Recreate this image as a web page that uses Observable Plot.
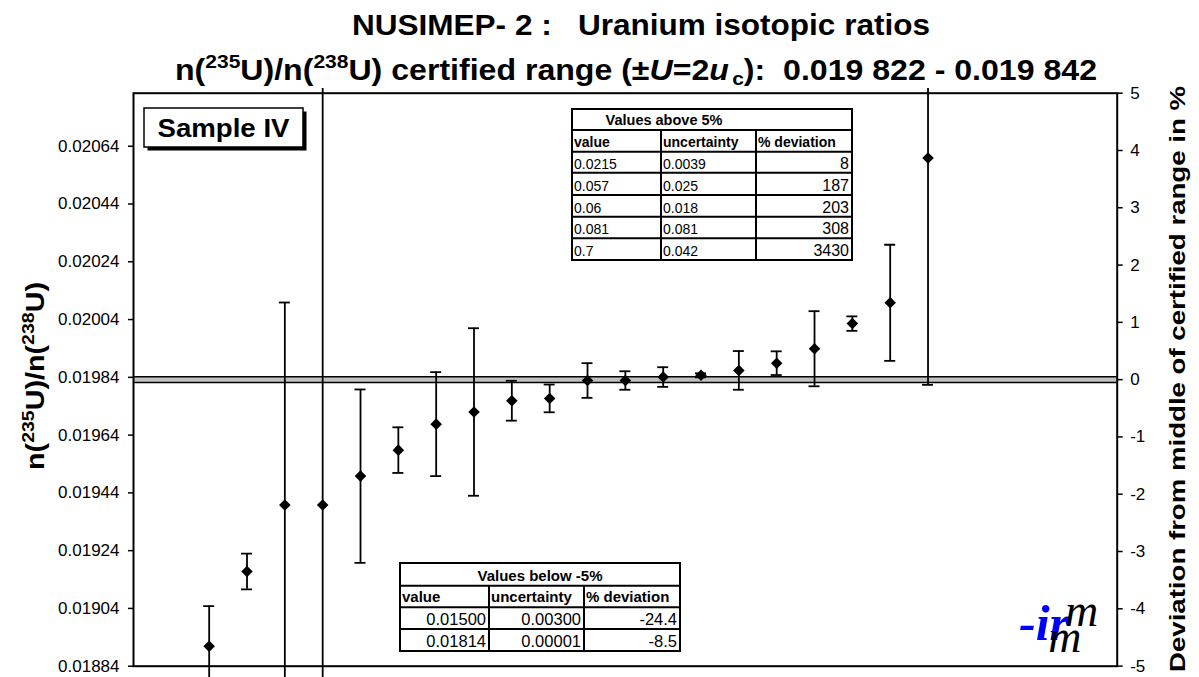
<!DOCTYPE html>
<html><head><meta charset="utf-8">
<script src="https://cdn.jsdelivr.net/npm/d3@7"></script>
<script src="https://cdn.jsdelivr.net/npm/@observablehq/plot@0.6"></script>
<style>
body{margin:0;background:#fff;overflow:hidden;}
#wrap{position:relative;width:1199px;height:677px;overflow:hidden;font-family:"Liberation Sans",Arial,sans-serif;}
#over{position:absolute;left:0;top:0;pointer-events:none;}
</style></head><body><div id="wrap"></div>
<script>
// ---- data ----
const labPosition = [2,3,4,5,6,7,8,9,10,11,12,13,14,15,16,17,18,19,20,21];
const measuredValue = [0.018909,0.019168,0.019398,0.019398,0.019498,0.019588,0.019678,0.019720,0.019759,0.019767,
                       0.019829,0.019829,0.019841,0.019847,0.019864,0.019889,0.019939,0.020026,0.020098,0.020599];
const expandedUncertainty = [0.000139,0.000062,0.000701,0.0016,0.000300,0.000079,0.000180,0.000290,0.000069,0.000048,
                             0.000060,0.000032,0.000034,0.000007,0.000067,0.000041,0.000130,0.000025,0.000201,0.000785];
const certLow = 0.019822, certHigh = 0.019842, certMid = 0.019832;
const leftTicks = [0.01884,0.01904,0.01924,0.01944,0.01964,0.01984,0.02004,0.02024,0.02044,0.02064];
const rightTicks = [-5,-4,-3,-2,-1,0,1,2,3,4,5];
const aboveTitle = "Values above 5%";
const aboveHeader = ["value","uncertainty","% deviation"];
const aboveRows = [["0.0215","0.0039","8"],["0.057","0.025","187"],["0.06","0.018","203"],["0.081","0.081","308"],["0.7","0.042","3430"]];
const belowTitle = "Values below -5%";
const belowHeader = ["value","uncertainty","% deviation"];
const belowRows = [["0.01500","0.00300","-24.4"],["0.01814","0.00001","-8.5"]];

const xDomain = [0, 26];
const yDomain = [0.01884, certMid * 1.05];
const barTop = certMid * 1.0508; // error bars stop just above the plot area
const rows = labPosition.map((x, i) => ({x, v: measuredValue[i], lo: measuredValue[i] - expandedUncertainty[i], hi: measuredValue[i] + expandedUncertainty[i]}));
const capHalf = 0.145;

const plot = Plot.plot({
  width: 1199, height: 677,
  marginLeft: 133, marginRight: 82.3, marginTop: 92.7, marginBottom: 11.3,
  style: {fontFamily: '"Liberation Sans", Arial, sans-serif', fontSize: "17px", background: "white", color: "black"},
  x: {domain: xDomain, axis: null},
  y: {domain: yDomain, axis: null, label: null},
  marks: [
    Plot.rect([{a: certLow, b: certHigh}], {x1: () => xDomain[0], x2: () => xDomain[1], y1: "a", y2: "b", fill: "#c0c0c0"}),
    Plot.ruleY([certLow, certHigh], {stroke: "black", strokeWidth: 1.6}),
    Plot.ruleX(rows, {x: "x", y1: "lo", y2: d => Math.min(d.hi, barTop), stroke: "black", strokeWidth: 1.8}),
    Plot.ruleY(rows, {y: "hi", x1: d => d.x - capHalf, x2: d => d.x + capHalf, stroke: "black", strokeWidth: 1.8, clip: true}),
    Plot.ruleY(rows, {y: "lo", x1: d => d.x - capHalf, x2: d => d.x + capHalf, stroke: "black", strokeWidth: 1.8, clip: true}),
    Plot.dot(rows, {x: "x", y: "v", symbol: "diamond2", r: 5.2, fill: "black", stroke: "none"}),
    Plot.frame({stroke: "black", strokeWidth: 2}),
    Plot.axisY({anchor: "left", ticks: leftTicks, tickSize: 5, tickPadding: 9, tickFormat: d3.format(".5f"), label: null, strokeWidth: 1.5}),
    Plot.axisY({anchor: "right", ticks: rightTicks.map(k => certMid * (1 + k / 100)), tickSize: 5, tickPadding: 8,
      tickFormat: v => String(Math.round((v / certMid - 1) * 100)), label: null, strokeWidth: 1.5})
  ]
});
const wrap = document.getElementById("wrap");
wrap.appendChild(plot);

// ---- overlay: titles, axis titles, box, tables, logo ----
const svg = d3.select(wrap).append("svg").attr("id", "over").attr("width", 1199).attr("height", 677)
  .style("font-family", '"Liberation Sans", Arial, sans-serif');

svg.append("text").attr("x", 641).attr("y", 35).attr("text-anchor", "middle")
  .attr("font-size", 29).attr("font-weight", "bold").attr("textLength", 578).attr("lengthAdjust", "spacingAndGlyphs")
  .style("white-space", "pre").text("NUSIMEP- 2 :   Uranium isotopic ratios");

svg.append("g").html(
  `<text x="636" y="80" text-anchor="middle" font-size="29" font-weight="bold" textLength="922" lengthAdjust="spacingAndGlyphs" style="white-space:pre">n(<tspan font-size="19" dy="-12">235</tspan><tspan dy="12">U)/n(</tspan><tspan font-size="19" dy="-12">238</tspan><tspan dy="12">U) certified range (±</tspan><tspan font-style="italic">U</tspan>=2<tspan font-style="italic">u</tspan><tspan font-size="19" dy="5" dx="3">c</tspan><tspan dy="-5">):  0.019 822 - 0.019 842</tspan></text>` +
  `<text transform="translate(44,376) rotate(-90)" text-anchor="middle" font-size="25" font-weight="bold" textLength="188" lengthAdjust="spacingAndGlyphs">n(<tspan font-size="17" dy="-10">235</tspan><tspan dy="10">U)/n(</tspan><tspan font-size="17" dy="-10">238</tspan><tspan dy="10">U)</tspan></text>` +
  `<text transform="translate(1185,379) rotate(-90)" text-anchor="middle" font-size="22.5" font-weight="bold" textLength="586" lengthAdjust="spacingAndGlyphs">Deviation from middle of certified range in %</text>`
);

// Sample box
svg.append("rect").attr("x", 147.5).attr("y", 111.5).attr("width", 159).attr("height", 39).attr("fill", "black");
svg.append("rect").attr("x", 144).attr("y", 108).attr("width", 159).attr("height", 39).attr("fill", "white").attr("stroke", "black").attr("stroke-width", 1.5);
svg.append("text").attr("x", 223.5).attr("y", 137).attr("text-anchor", "middle").attr("font-size", 26).attr("font-weight", "bold")
  .attr("textLength", 132).attr("lengthAdjust", "spacingAndGlyphs").text("Sample IV");

function drawTable(spec) {
  const g = svg.append("g");
  const {cols, rowsY, title, titleX, header, body, alignLeftCols, fs} = spec;
  const x0 = cols[0], x1 = cols[cols.length - 1], y0 = rowsY[0], y1 = rowsY[rowsY.length - 1];
  g.append("rect").attr("x", x0).attr("y", y0).attr("width", x1 - x0).attr("height", y1 - y0).attr("fill", "white").attr("stroke", "black").attr("stroke-width", 2);
  rowsY.slice(1, -1).forEach(y => g.append("line").attr("x1", x0).attr("x2", x1).attr("y1", y).attr("y2", y).attr("stroke", "black").attr("stroke-width", 2));
  cols.slice(1, -1).forEach(x => g.append("line").attr("x1", x).attr("x2", x).attr("y1", rowsY[1]).attr("y2", y1).attr("stroke", "black").attr("stroke-width", 2));
  g.append("text").attr("x", titleX).attr("y", rowsY[1] - 5).attr("text-anchor", "middle").attr("font-size", fs.title).attr("font-weight", "bold").text(title);
  header.forEach((t, j) => g.append("text").attr("x", cols[j] + 2).attr("y", rowsY[2] - 5).attr("font-size", fs.header).attr("font-weight", "bold").text(t));
  body.forEach((r, i) => r.forEach((t, j) => {
    const left = alignLeftCols.includes(j);
    g.append("text").attr("x", left ? cols[j] + 2 : cols[j + 1] - 3).attr("y", rowsY[i + 3] - 4)
      .attr("text-anchor", left ? "start" : "end").attr("font-size", left ? fs.bodyLeft : fs.bodyRight).text(t);
  }));
}
drawTable({cols: [572, 661, 756, 852], rowsY: [109, 130, 151.7, 172.7, 195, 216.7, 238.3, 260], title: aboveTitle, titleX: 664,
  header: aboveHeader, body: aboveRows, alignLeftCols: [0, 1], fs: {title: 14.5, header: 14, bodyLeft: 14, bodyRight: 16}});
drawTable({cols: [400, 489, 584, 680], rowsY: [563, 585.7, 607.3, 629, 651], title: belowTitle, titleX: 540,
  header: belowHeader, body: belowRows, alignLeftCols: [], fs: {title: 15, header: 15, bodyLeft: 16.5, bodyRight: 16.5}});

// logo (one text element)
svg.append("g").html(
  `<text x="1019" y="640" font-family="'Liberation Serif', serif" font-style="italic" font-size="50"><tspan fill="#0000ff" font-weight="bold">-ir</tspan><tspan fill="black" dy="-14" dx="-4" font-size="46">m</tspan><tspan fill="black" dx="-50" dy="26" font-size="46">m</tspan></text>`
);
</script></body></html>
